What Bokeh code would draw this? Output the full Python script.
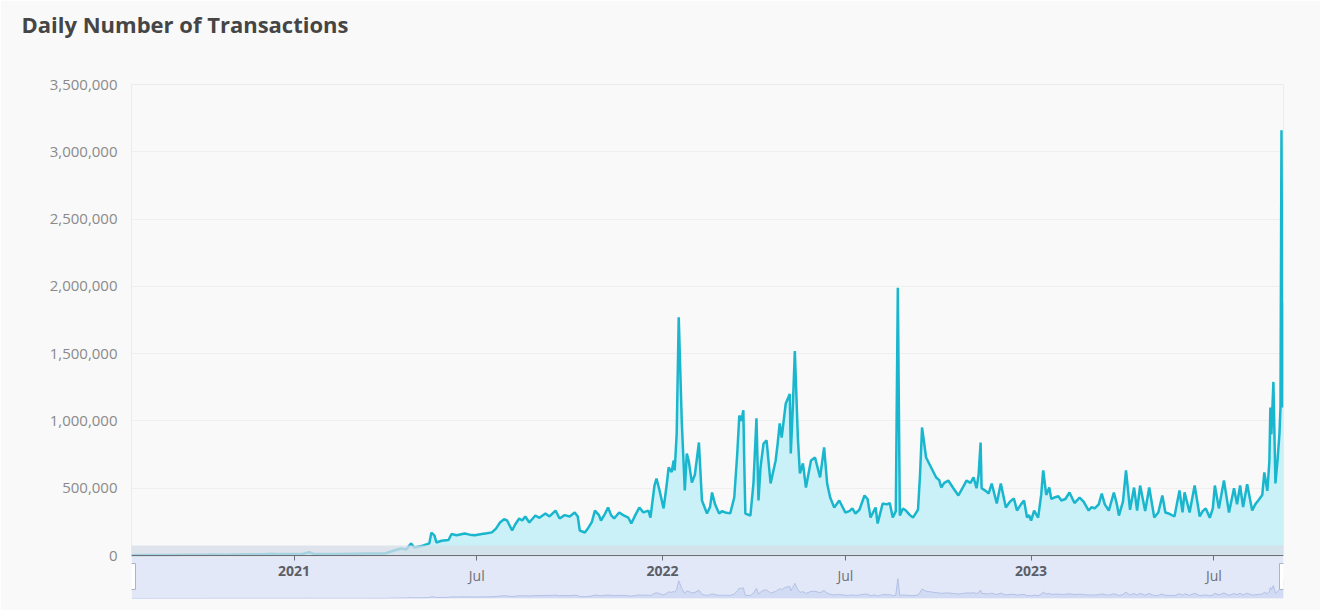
import pandas as pd
from bokeh.plotting import figure
from bokeh.models import (Range1d, FixedTicker, NumeralTickFormatter, DatetimeAxis,
                          DatetimeTickFormatter, ColumnDataSource, Title)
from bokeh.embed import file_html
from bokeh.resources import INLINE

TITLE = "Daily Number of Transactions"

dates = [
    "2020-07-24", "2020-08-01", "2020-08-15", "2020-09-01", "2020-09-15", "2020-10-01", "2020-10-15",
    "2020-10-25", "2020-11-01", "2020-11-15", "2020-12-01", "2020-12-10", "2020-12-15",
    "2021-01-01", "2021-01-10", "2021-01-16", "2021-01-20", "2021-02-01", "2021-02-15", "2021-03-01",
    "2021-03-15", "2021-04-01", "2021-04-10", "2021-04-17", "2021-04-22", "2021-04-27", "2021-04-30",
    "2021-05-07", "2021-05-15", "2021-05-17", "2021-05-20", "2021-05-22", "2021-05-27",
    "2021-06-03", "2021-06-06", "2021-06-11", "2021-06-19", "2021-06-24", "2021-06-29",
    "2021-07-06", "2021-07-11", "2021-07-16", "2021-07-20", "2021-07-24", "2021-07-28", "2021-07-31",
    "2021-08-05", "2021-08-08", "2021-08-12", "2021-08-15", "2021-08-18", "2021-08-22", "2021-08-28",
    "2021-09-01", "2021-09-07", "2021-09-11", "2021-09-17", "2021-09-21", "2021-09-26",
    "2021-10-01", "2021-10-06", "2021-10-09", "2021-10-11", "2021-10-16", "2021-10-19", "2021-10-23",
    "2021-10-26", "2021-10-30", "2021-11-01", "2021-11-05", "2021-11-08", "2021-11-11", "2021-11-14",
    "2021-11-19", "2021-11-23", "2021-11-28", "2021-12-01", "2021-12-05", "2021-12-09", "2021-12-13",
    "2021-12-18", "2021-12-20", "2021-12-24", "2021-12-26", "2021-12-29",
    "2022-01-02", "2022-01-05", "2022-01-07", "2022-01-10", "2022-01-12", "2022-01-13", "2022-01-15",
    "2022-01-17", "2022-01-20", "2022-01-23", "2022-01-25", "2022-01-27", "2022-01-30",
    "2022-02-02", "2022-02-06", "2022-02-09", "2022-02-14", "2022-02-17", "2022-02-19", "2022-02-22",
    "2022-02-26", "2022-03-01", "2022-03-04", "2022-03-09", "2022-03-13", "2022-03-16", "2022-03-18",
    "2022-03-20", "2022-03-22", "2022-03-23", "2022-03-24", "2022-03-29", "2022-04-01", "2022-04-04",
    "2022-04-06", "2022-04-08", "2022-04-11", "2022-04-14", "2022-04-18", "2022-04-23", "2022-04-25",
    "2022-04-27", "2022-04-29", "2022-05-03", "2022-05-07", "2022-05-08", "2022-05-10", "2022-05-12",
    "2022-05-15", "2022-05-17", "2022-05-20", "2022-05-23", "2022-05-28", "2022-06-01", "2022-06-06",
    "2022-06-10", "2022-06-13", "2022-06-16", "2022-06-20", "2022-06-25", "2022-07-01", "2022-07-05",
    "2022-07-08", "2022-07-11", "2022-07-15", "2022-07-20", "2022-07-23", "2022-07-26", "2022-07-31",
    "2022-08-02", "2022-08-07", "2022-08-11", "2022-08-14", "2022-08-17", "2022-08-20", "2022-08-22",
    "2022-08-24", "2022-08-27", "2022-08-30", "2022-09-03", "2022-09-06", "2022-09-11", "2022-09-13",
    "2022-09-15", "2022-09-19", "2022-09-24", "2022-09-29", "2022-10-02", "2022-10-04", "2022-10-07",
    "2022-10-11", "2022-10-16", "2022-10-21", "2022-10-25", "2022-10-29", "2022-11-02", "2022-11-05",
    "2022-11-08", "2022-11-10", "2022-11-12", "2022-11-13", "2022-11-17", "2022-11-20", "2022-11-23",
    "2022-11-28", "2022-12-02", "2022-12-07", "2022-12-11", "2022-12-15", "2022-12-18", "2022-12-22",
    "2022-12-25", "2022-12-28", "2022-12-30",
    "2023-01-01", "2023-01-04", "2023-01-08", "2023-01-11", "2023-01-13", "2023-01-16", "2023-01-19",
    "2023-01-21", "2023-01-24", "2023-01-28", "2023-01-31", "2023-02-04", "2023-02-08", "2023-02-13",
    "2023-02-18", "2023-02-22", "2023-02-27", "2023-03-02", "2023-03-05", "2023-03-09", "2023-03-12",
    "2023-03-15", "2023-03-19", "2023-03-24", "2023-03-27", "2023-03-29", "2023-04-02", "2023-04-05",
    "2023-04-09", "2023-04-13", "2023-04-16", "2023-04-19", "2023-04-24", "2023-04-28", "2023-05-03",
    "2023-05-07", "2023-05-11", "2023-05-14", "2023-05-18", "2023-05-23", "2023-05-28", "2023-05-31",
    "2023-06-02", "2023-06-07", "2023-06-12", "2023-06-17", "2023-06-20", "2023-06-23", "2023-06-27",
    "2023-06-30", "2023-07-02", "2023-07-06", "2023-07-11", "2023-07-16", "2023-07-21", "2023-07-24",
    "2023-07-27", "2023-07-30", "2023-08-03", "2023-08-08", "2023-08-11", "2023-08-14", "2023-08-18",
    "2023-08-20", "2023-08-23", "2023-08-25", "2023-08-26", "2023-08-27", "2023-08-29", "2023-08-31",
    "2023-09-02", "2023-09-04", "2023-09-05", "2023-09-06", "2023-09-07", "2023-09-08",
]

transactions = [
    2000, 3000, 3000, 4000, 5000, 6000, 8000,
    6000, 8000, 9000, 10000, 13000, 11000,
    12000, 13000, 24000, 13000, 12000, 12000, 13000,
    14000, 15000, 37000, 52000, 45000, 90000, 60000,
    70000, 90000, 170000, 150000, 97000, 110000,
    115000, 160000, 150000, 163000, 155000, 150000,
    160000, 165000, 172000, 200000, 245000, 270000, 260000,
    186000, 230000, 275000, 260000, 290000, 245000, 297000,
    280000, 312000, 290000, 334000, 275000, 300000,
    290000, 320000, 290000, 186000, 171000, 200000, 250000,
    334000, 300000, 260000, 310000, 357000, 300000, 275000,
    320000, 300000, 282000, 238000, 300000, 357000, 320000,
    334000, 282000, 520000, 572000, 483000,
    350000, 520000, 654000, 620000, 706000, 632000, 906000,
    1770000, 1000000, 483000, 758000, 700000, 542000,
    600000, 840000, 409000, 312000, 360000, 468000, 380000,
    312000, 330000, 320000, 313000, 431000, 760000, 1040000,
    1000000, 1080000, 654000, 312000, 297000, 535000, 1020000,
    409000, 654000, 832000, 855000, 535000, 706000, 832000,
    981000, 877000, 1130000, 1200000, 758000, 1100000, 1520000,
    877000, 610000, 684000, 505000, 706000, 728000, 580000,
    803000, 535000, 431000, 357000, 409000, 320000, 330000,
    350000, 312000, 340000, 446000, 420000, 282000, 357000,
    238000, 386000, 380000, 390000, 282000, 330000, 1990000,
    297000, 350000, 334000, 300000, 282000, 340000, 600000,
    951000, 728000, 654000, 580000, 560000, 505000, 540000,
    557000, 500000, 446000, 500000, 557000, 540000, 580000,
    500000, 600000, 840000, 500000, 480000, 461000, 535000,
    386000, 535000, 357000, 400000, 424000, 334000, 380000,
    409000, 282000, 300000,
    260000, 334000, 282000, 450000, 632000, 450000, 505000,
    420000, 431000, 440000, 409000, 420000, 468000, 390000,
    430000, 400000, 334000, 360000, 350000, 380000, 461000,
    380000, 334000, 468000, 380000, 297000, 400000, 632000,
    340000, 505000, 334000, 520000, 330000, 505000, 282000,
    320000, 446000, 320000, 310000, 290000, 483000, 320000,
    470000, 320000, 520000, 290000, 330000, 350000, 280000,
    350000, 520000, 350000, 557000, 320000, 500000, 380000,
    520000, 360000, 530000, 334000, 380000, 409000, 450000,
    617000, 480000, 700000, 1100000, 900000, 1290000, 535000,
    700000, 906000, 1100000, 3160000, 1100000, 1880000,
]

YEAR_TICKS = ["2021-01-01", "2022-01-01", "2023-01-01"]
MID_TICKS = ["2021-07-01", "2022-07-01", "2023-07-01"]
Y_TICKS = [0, 500000, 1000000, 1500000, 2000000, 2500000, 3000000, 3500000]

BG = "#f9f9f9"
LINE = "#19b6ce"
AXIS = "#6e7079"

x = [pd.Timestamp(d).to_pydatetime() for d in dates]
src = ColumnDataSource(dict(x=x, y=transactions))

y_top = Y_TICKS[-1]
p = figure(width=1320, height=610, x_axis_type=None, output_backend="svg",
           toolbar_location=None,
           x_range=Range1d(x[0], x[-1]), y_range=Range1d(-319500, y_top),
           min_border_left=131, min_border_right=37, min_border_top=84, min_border_bottom=12,
           background_fill_color=BG, border_fill_color=BG)
p.outline_line_color = None
p.extra_y_ranges = {"mini": Range1d(0, 51400000)}

# y axis
ya = p.yaxis[0]
ya.ticker = FixedTicker(ticks=Y_TICKS)
ya.formatter = NumeralTickFormatter(format="0,0")
ya.axis_line_color = None
ya.major_tick_line_color = None
ya.minor_tick_line_color = None
ya.major_label_standoff = 8
ya.major_label_text_font = "Open Sans"
ya.major_label_text_font_size = "15px"
ya.major_label_text_color = "#8a8a8a"
p.ygrid.grid_line_color = "#efefef"

# title (a blank spacer title sits between the frame and the real title)
p.add_layout(Title(text=" ", text_font_size="2px", standoff=42), "above")
p.add_layout(Title(text=TITLE, align="left", offset=-110, standoff=0,
                   text_font="Open Sans", text_font_size="22px", text_font_style="bold",
                   text_color="#454545"), "above")

# main series
p.varea(x="x", y1=0, y2="y", source=src, fill_color="#c3f0f8", fill_alpha=0.85)
p.line("x", "y", source=src, line_color=LINE, line_width=2.5)

# plot border
p.quad(left=[x[0]], right=[x[-1]], bottom=[0], top=[y_top], fill_color=None,
       line_color="#dcdcdc", line_width=1)

# data zoom slider
p.quad(left=[x[0]], right=[x[-1]], bottom=[-319500], top=[-15000],
       fill_color="#e2e8f7", line_color=None)
p.varea(x="x", y1=0, y2="y", source=src, fill_color="#d0d9f3", fill_alpha=0.9,
        y_range_name="mini")
p.line("x", "y", source=src, line_color="#b3c0e6", line_width=1, y_range_name="mini")
p.quad(left=[x[0]], right=[x[-1]], bottom=[-15000], top=[74000],
       fill_color="#d6dce7", fill_alpha=0.75, line_color=None)
p.rect(x=[x[0], x[-1]], y=[-156000, -156000], width=8, height=26,
       width_units="screen", height_units="screen",
       fill_color="white", line_color="#a9b4cc", line_width=1)


def ms(d):
    return pd.Timestamp(d).value // 10**6


def fmt(f):
    return DatetimeTickFormatter(microseconds=f, milliseconds=f, seconds=f, minsec=f,
                                 minutes=f, hourmin=f, hours=f, days=f, months=f, years=f)


xa_year = DatetimeAxis(ticker=FixedTicker(ticks=[ms(d) for d in YEAR_TICKS]), formatter=fmt("%Y"),
                       fixed_location=0)
xa_mid = DatetimeAxis(ticker=FixedTicker(ticks=[ms(d) for d in MID_TICKS]), formatter=fmt("%b"),
                      fixed_location=0)
for ax in (xa_year, xa_mid):
    ax.axis_line_color = AXIS
    ax.major_tick_line_color = AXIS
    ax.major_tick_out = 5
    ax.major_tick_in = 0
    ax.minor_tick_line_color = None
    ax.major_label_standoff = 5
    ax.major_label_text_font = "Open Sans"
    ax.major_label_text_font_size = "14px"
    ax.major_label_text_color = AXIS
xa_mid.axis_line_color = None
xa_year.major_label_text_font_style = "bold"
xa_year.major_label_text_color = "#5c5e66"
p.add_layout(xa_year, "below")
p.add_layout(xa_mid, "below")

html = file_html(p, INLINE)
html = html.replace("<body>", '<body style="background-color:%s;">' % BG, 1)
open("out.html", "w").write(html)
